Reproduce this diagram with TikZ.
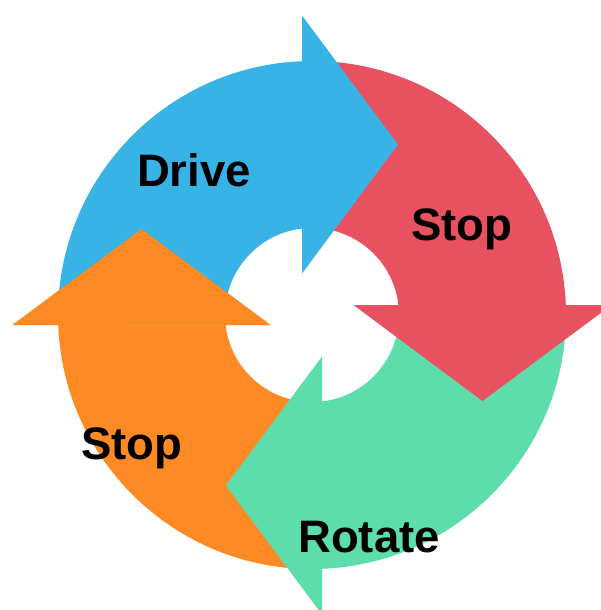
\documentclass[tikz,border=0pt]{standalone}
\usepackage{fontspec}
\setmainfont{Liberation Sans}
\definecolor{cblue}{RGB}{56,179,230}
\definecolor{cred}{RGB}{232,81,96}
\definecolor{cgreen}{RGB}{94,221,172}
\definecolor{corange}{RGB}{253,138,36}
\begin{document}
\begin{tikzpicture}[x=1pt,y=1pt,
  lbl/.style={font=\fontsize{45.5}{45.5}\selectfont\bfseries, text=black, inner sep=0pt, anchor=base},
  arrowshape/.style={draw=none}]
\useasboundingbox (0,0) rectangle (601,-610);
\begin{scope}[shift={(312,-315)}]
  \foreach \c/\a in {corange/-270, cgreen/-180, cred/-90, cblue/0}{
    \fill[arrowshape, \c, rotate=\a] (182.256:254) arc[start angle=182.256, end angle=92.256, radius=254]
      -- (-10,299.5) -- (86,170.5) -- (-10,41.5)
      -- (96.60:87) arc[start angle=96.60, end angle=186.60, radius=87] -- cycle;
  }
  % orange head lies over the tail of the blue arrow
  \fill[arrowshape, corange, rotate=-270] (-10,41.5) -- (-10,299.5) -- (86,170.5) -- cycle;
\end{scope}
\node[lbl] (drive) at (194,-186) {Drive};
\node[lbl] (stopr) at (462,-240) {Stop};
\node[lbl] (stopl) at (132,-459) {Stop};
\node[lbl] (rotate) at (369,-552) {Rotate};
\end{tikzpicture}
\end{document}
